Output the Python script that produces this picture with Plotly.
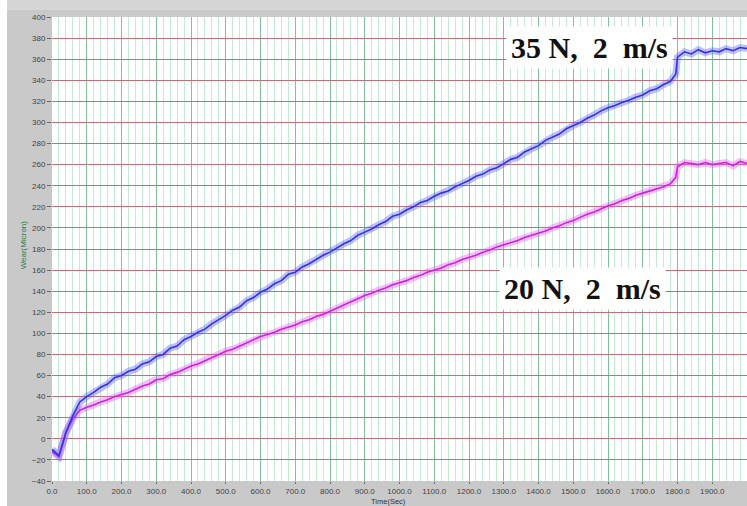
import plotly.graph_objects as go

# ---- data ----
time_s = [0, 20, 40, 60, 80, 100, 120, 140, 160, 180, 200, 220, 240, 260, 280, 300, 320, 340, 360, 380,
          400, 420, 440, 460, 480, 500, 520, 540, 560, 580, 600, 620, 640, 660, 680, 700, 720, 740, 760, 780,
          800, 820, 840, 860, 880, 900, 920, 940, 960, 980, 1000, 1020, 1040, 1060, 1080, 1100, 1120, 1140, 1160, 1180,
          1200, 1220, 1240, 1260, 1280, 1300, 1320, 1340, 1360, 1380, 1400, 1420, 1440, 1460, 1480, 1500, 1520, 1540, 1560, 1580,
          1600, 1620, 1640, 1660, 1680, 1700, 1720, 1740, 1760, 1780, 1795, 1800, 1820, 1840, 1860, 1880, 1900, 1920, 1940, 1960,
          1980, 2000]

wear_35N = [-10, -16, 6, 22, 35, 40, 44, 49, 52, 58, 60, 64, 66, 71, 73, 78, 80, 86, 88, 94,
            97, 101, 104, 109, 113, 117, 122, 125, 131, 134, 139, 142, 147, 150, 156, 158, 163, 166, 170, 174,
            177, 181, 185, 188, 193, 196, 199, 203, 206, 211, 213, 217, 220, 224, 226, 230, 233, 235, 239, 242,
            245, 249, 251, 255, 257, 261, 265, 267, 272, 275, 278, 283, 286, 289, 294, 297, 300, 304, 307, 311,
            314, 316, 319, 321, 324, 326, 330, 332, 336, 339, 346, 362, 367, 365, 369, 366, 368, 367, 370, 368,
            371, 370]

wear_20N = [-12, -17, 6, 19, 27, 30, 32, 35, 37, 40, 42, 44, 47, 50, 52, 56, 57, 61, 63, 66,
            69, 71, 74, 77, 80, 83, 85, 88, 91, 94, 97, 99, 101, 104, 106, 108, 111, 113, 116, 118,
            121, 124, 127, 130, 133, 136, 138, 141, 143, 146, 148, 150, 153, 155, 158, 160, 162, 165, 167, 170,
            172, 174, 177, 179, 182, 184, 186, 188, 191, 193, 195, 197, 200, 202, 205, 207, 210, 213, 215, 218,
            221, 223, 226, 228, 231, 233, 235, 237, 239, 242, 248, 258, 262, 261, 260, 262, 260, 261, 262, 259,
            263, 261]

x_ticks = list(range(0, 2001, 100))
x_tick_text = [f"{v:.1f}" for v in x_ticks]
y_ticks = list(range(-40, 401, 20))

label_35 = "35 N,&nbsp;&nbsp;2&nbsp;&nbsp;m/s"
label_20 = "20 N,&nbsp;&nbsp;2&nbsp;&nbsp;m/s"

fig = go.Figure()

for ys, halo, core in [(wear_20N, "rgba(225,90,240,0.38)", "#cc22dd"),
                       (wear_35N, "rgba(90,90,245,0.38)", "#3333e6")]:
    fig.add_trace(go.Scatter(x=time_s, y=ys, mode="lines",
                             line=dict(color=halo, width=7), hoverinfo="skip", showlegend=False))
    fig.add_trace(go.Scatter(x=time_s, y=ys, mode="lines",
                             line=dict(color=core, width=1.6), showlegend=False))

fig.add_annotation(x=1548, y=371.5, text=f"<b>{label_35}</b>", showarrow=False,
                   font=dict(family="Liberation Serif", size=30, color="#111"),
                   bgcolor="white", borderpad=4)
fig.add_annotation(x=1528, y=143, text=f"<b>{label_20}</b>", showarrow=False,
                   font=dict(family="Liberation Serif", size=30, color="#111"),
                   bgcolor="white", borderpad=4)

# axis titles
fig.add_annotation(xref="paper", yref="paper", x=(388 - 52) / 695, y=-25.5 / 464,
                   xanchor="center", yanchor="bottom", borderpad=0,
                   text="Time(Sec)", showarrow=False,
                   font=dict(family="Liberation Sans", size=7.5, color="#333"))
fig.add_annotation(xref="paper", yref="paper", x=(23 - 52) / 695, y=0.51, textangle=-90,
                   xanchor="center", yanchor="middle",
                   text="Wear(Micron)", showarrow=False,
                   font=dict(family="Liberation Sans", size=8, color="#2e7a4a"))

# white strip at left edge and lighter strip at top
fig.add_shape(type="rect", xref="paper", yref="paper", x0=-52 / 695, x1=-45 / 695, y0=-0.06, y1=1.04,
              fillcolor="white", line=dict(width=0), layer="below")
fig.add_shape(type="rect", xref="paper", yref="paper", x0=-45 / 695, x1=1.0, y0=1 + 7 / 464, y1=1.04,
              fillcolor="#d6d6d6", line=dict(width=0), layer="below")

fig.update_layout(
    width=747, height=506,
    margin=dict(l=52, r=0, t=17, b=25),
    paper_bgcolor="#c9c9c9",
    plot_bgcolor="white",
    font=dict(family="Liberation Sans", size=8, color="#444"),
    xaxis=dict(range=[0, 2000], tickvals=x_ticks, ticktext=x_tick_text,
               showgrid=True, gridcolor="#7fc39a", gridwidth=1,
               minor=dict(dtick=20, showgrid=True, gridcolor="#c4ecd5", gridwidth=1),
               ticks="outside", ticklen=2, tickcolor="#666", zeroline=False,
               tickfont=dict(size=8, color="#444")),
    yaxis=dict(range=[-40, 400], tickvals=y_ticks,
               showgrid=True, gridcolor="#c0707a", gridwidth=1.3,
               ticks="outside", ticklen=4, tickcolor="#666", zeroline=False,
               tickfont=dict(size=8, color="#444")),
)

fig.write_html("out.html", config={"displayModeBar": False},
               post_script="document.body.style.margin='0';document.body.style.overflow='hidden';")
